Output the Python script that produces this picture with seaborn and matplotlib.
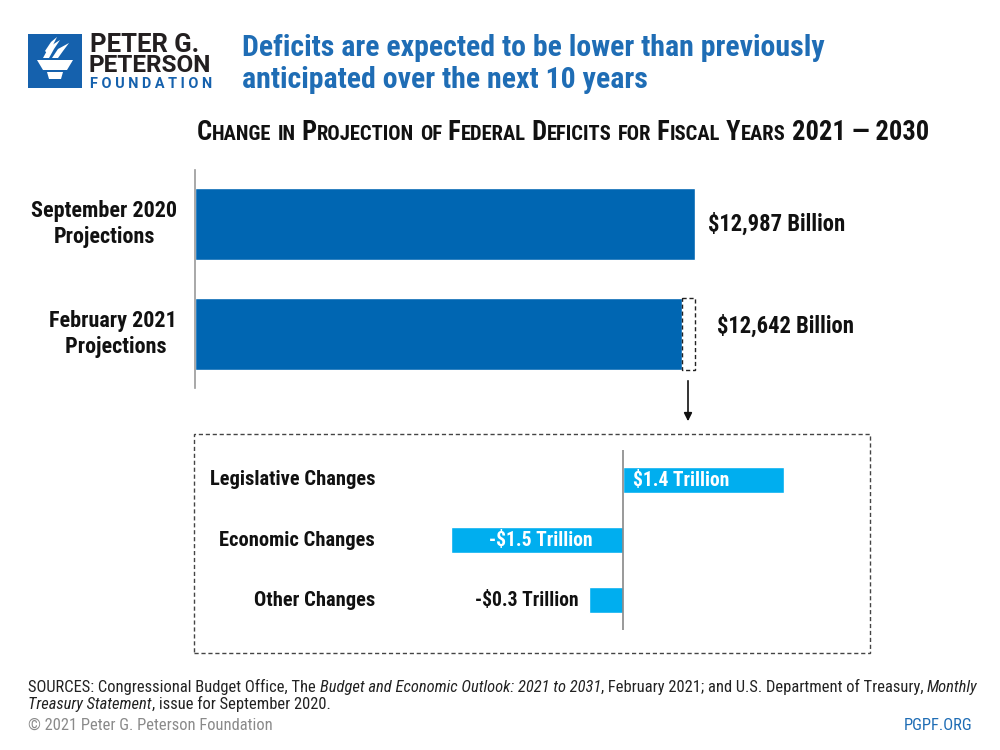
import matplotlib
matplotlib.use("Agg")
import matplotlib.pyplot as plt
import seaborn as sns
import pandas as pd
from matplotlib.patches import Rectangle, Polygon, FancyArrowPatch
from matplotlib import font_manager as fm

# ---- data ----
proj_labels = ["September 2020\nProjections", "February 2021\n Projections"]
proj_values = [12987, 12642]
proj_texts = ["$12,987 Billion", "$12,642 Billion"]

chg_labels = ["Legislative Changes", "Economic Changes", "Other Changes"]
chg_values = [1.4, -1.5, -0.3]
chg_texts = ["$1.4 Trillion", "-$1.5 Trillion", "-$0.3 Trillion"]

DARK = "#0066B2"
LIGHT = "#00AEEF"
TITLE_BLUE = "#1F6DB5"
TXT = "#111111"

# choose the narrowest available family
entries = fm.fontManager.ttflist
names = {f.name for f in entries}
STRETCH = "normal"
if "Liberation Sans Narrow" in names:
    FONT = "Liberation Sans Narrow"
elif "Roboto Condensed" in names:
    FONT = "Roboto Condensed"
elif any(f.name == "DejaVu Sans" and str(f.stretch).lower() in ("condensed", "semi-condensed")
         for f in entries):
    FONT = "DejaVu Sans"
    STRETCH = "condensed"
elif "Roboto" in names:
    FONT = "Roboto"
else:
    FONT = "DejaVu Sans"
FAM = [FONT, "DejaVu Sans"]
LOGO_FAM = ["Roboto", "DejaVu Sans"] if "Roboto" in names else FAM

sns.set_theme(style="white")
plt.rcParams["font.family"] = FAM
plt.rcParams["font.stretch"] = STRETCH

W, H = 1000, 750
fig = plt.figure(figsize=(10, 7.5), dpi=100)
fig.patch.set_facecolor("white")
R = fig.canvas.get_renderer()


def fx(px):
    return px / W


def fy(py):
    return 1 - py / H


def width_at(text, size, **kw):
    t = fig.text(0, 0, text, fontsize=size, **kw)
    w = t.get_window_extent(renderer=R).width
    t.remove()
    return w


def fit(text, target, base=14, **kw):
    return base * target / width_at(text, base, **kw)


def place_runs(x_px, y_px, runs, scale=1.0, color=TXT, **common):
    x = fx(x_px)
    for s, size, extra in runs:
        kw = dict(common)
        kw.update(extra)
        t = fig.text(x, fy(y_px), s, fontsize=size * scale, color=color, ha="left",
                     va="baseline", **kw)
        x += t.get_window_extent(renderer=R).width / W


def runs_width(runs, **common):
    tot = 0
    for s, size, extra in runs:
        kw = dict(common)
        kw.update(extra)
        tot += width_at(s, size, **kw)
    return tot


# ---- logo ----
fig.add_artist(Rectangle((fx(28), fy(88)), fx(54), 54 / H, transform=fig.transFigure,
                         facecolor="#1561AD", edgecolor="none"))
shapes = [
    [(37, 60), (73, 60), (67, 70), (43, 70)],
    [(47, 72), (63, 72), (61, 79), (49, 79)],
    [(43, 58), (49, 47), (60, 40), (54, 49), (49, 58)],
    [(52, 58), (58, 49), (69, 43), (63, 51), (58, 58)],
    [(45, 51), (51, 42), (57, 37), (53, 45), (47, 53)],
]
for pts in shapes:
    fig.add_artist(Polygon([(fx(a), fy(b)) for a, b in pts], closed=True,
                           transform=fig.transFigure, facecolor="white", edgecolor="none"))
s1 = fit("PETER G.", 110, weight="bold", family=LOGO_FAM)
fig.text(fx(90), fy(52), "PETER G.", fontsize=s1, fontweight="bold", color="#231F20",
         va="baseline", ha="left", family=LOGO_FAM)
s2 = fit("PETERSON", 123, weight="bold", family=LOGO_FAM)
fig.text(fx(89), fy(72), "PETERSON", fontsize=s2, fontweight="bold", color="#231F20",
         va="baseline", ha="left", family=LOGO_FAM)
s3 = fit("F O U N D A T I O N", 123, weight="bold", family=LOGO_FAM)
fig.text(fx(90), fy(88), "F O U N D A T I O N", fontsize=s3, fontweight="bold", color="#1561AD",
         va="baseline", ha="left", family=LOGO_FAM)

# ---- title ----
t1 = "Deficits are expected to be lower than previously"
st = fit(t1, 587, weight="bold")
fig.text(fx(242), fy(56), t1, fontsize=st, fontweight="bold", color=TITLE_BLUE,
         va="baseline", ha="left")
fig.text(fx(242), fy(88), "anticipated over the next 10 years", fontsize=st, fontweight="bold",
         color=TITLE_BLUE, va="baseline", ha="left")

# ---- small caps subtitle ----
sub = "Change in Projection of Federal Deficits for Fiscal Years 2021 \u2014 2030"
runs = []
for ch in sub:
    small = ch.islower()
    if runs and runs[-1][3] == small:
        runs[-1][0] += ch.upper()
    else:
        runs.append([ch.upper(), 12 if small else 15.5, {}, small])
runs = [(r[0], r[1], r[2]) for r in runs]
sc = 733 / runs_width(runs, fontweight="bold")
place_runs(197, 140, runs, scale=sc, fontweight="bold")

# ---- top bar chart ----
df1 = pd.DataFrame({"label": proj_labels, "value": proj_values})
ax1 = fig.add_axes([fx(195), fy(388), fx(705), 218 / H])
sns.barplot(data=df1, x="value", y="label", orient="h", color=DARK, saturation=1,
            width=0.655, ax=ax1)
ax1.set_xlim(0, 705 / 0.0385)
ax1.set_ylim(1.49, -0.49)
for s in ["top", "right", "bottom"]:
    ax1.spines[s].set_visible(False)
ax1.spines["left"].set_color("#999999")
ax1.spines["left"].set_linewidth(1.2)
ax1.set_xticks([])
ax1.set_yticks([])
ax1.set_xlabel("")
ax1.set_ylabel("")
ax1.patch.set_alpha(0)
ax1.add_patch(Rectangle((proj_values[1], 1 - 0.655 / 2), proj_values[0] - proj_values[1], 0.655,
                        facecolor="none", edgecolor="#222222", linestyle=(0, (3, 2)),
                        linewidth=1))
sv = fit(proj_texts[0], 138, weight="bold")
offsets = [(13, 0), (35, 8)]
for i, (v, t) in enumerate(zip(proj_values, proj_texts)):
    ax1.annotate(t, (v, i), xytext=offsets[i], textcoords="offset pixels", ha="left",
                 va="center", fontsize=sv, fontweight="bold", color=TXT)
sl = fit("September 2020", 146, weight="bold")
label_x = [104, 113]
for i, lab in enumerate(proj_labels):
    fig.text(fx(label_x[i]), fy(224 + 110 * i), lab, ha="center", va="center", fontsize=sl,
             fontweight="bold", color=TXT, linespacing=1.2)

# arrow
fig.add_artist(FancyArrowPatch((fx(688), fy(378)), (fx(688), fy(424)),
                               transform=fig.transFigure, arrowstyle="-|>",
                               mutation_scale=12, color="#111111", lw=1.2))

# ---- dashed box ----
fig.add_artist(Rectangle((fx(194), fy(653)), fx(676), 219 / H, transform=fig.transFigure,
                         facecolor="none", edgecolor="#444444", linestyle=(0, (3, 2)),
                         linewidth=1))

# ---- bottom bar chart ----
df2 = pd.DataFrame({"label": chg_labels, "value": chg_values})
ax2 = fig.add_axes([fx(400), fy(630), fx(470), 180 / H])
sns.barplot(data=df2, x="value", y="label", orient="h", color=LIGHT, saturation=1,
            width=0.42, ax=ax2)
ax2.set_xlim((400 - 623) / 115, (870 - 623) / 115)
ax2.set_ylim(2.5, -0.5)
for s in ax2.spines.values():
    s.set_visible(False)
ax2.axvline(0, color="#888888", lw=1.2)
ax2.set_xticks([])
ax2.set_yticks([])
ax2.set_xlabel("")
ax2.set_ylabel("")
ax2.patch.set_alpha(0)
sb = fit("-$1.5 Trillion", 104, weight="bold")
for i, (v, t) in enumerate(zip(chg_values, chg_texts)):
    if v > 0:
        ax2.annotate(t, (0, i), xytext=(10, 0), textcoords="offset pixels", ha="left",
                     va="center", fontsize=sb, fontweight="bold", color="white")
    elif abs(v) >= 1:
        ax2.annotate(t, (v / 2, i), xytext=(4, 0), textcoords="offset pixels", ha="center",
                     va="center", fontsize=sb, fontweight="bold", color="white")
    else:
        ax2.annotate(t, (v, i), xytext=(-10, 0), textcoords="offset pixels", ha="right",
                     va="center", fontsize=sb, fontweight="bold", color=TXT)
scl = fit("Legislative Changes", 167, weight="bold")
for i, lab in enumerate(chg_labels):
    fig.text(fx(375), fy(479 + 61 * i), lab, ha="right", va="center", fontsize=scl,
             fontweight="bold", color=TXT)

# ---- footer ----
ITAL = {"style": "italic"}
line1 = [("SOURCES: Congressional Budget Office, The ", 10, {}),
         ("Budget and Economic Outlook: 2021 to 2031", 10, ITAL),
         (", February 2021; and U.S. Department of Treasury, ", 10, {}),
         ("Monthly", 10, ITAL)]
fs = 944 / runs_width(line1)
place_runs(28, 692, line1, scale=fs, color="#222222")
line2 = [("Treasury Statement", 10, ITAL), (", issue for September 2020.", 10, {})]
place_runs(28, 709, line2, scale=fs, color="#222222")
fig.text(fx(28), fy(730), "\u00a9 2021 Peter G. Peterson Foundation", fontsize=10 * fs,
         color="#8A8A8A", ha="left", va="baseline")
fig.text(fx(972), fy(730), "PGPF.ORG", fontsize=10 * fs, color="#1F6DB5", ha="right",
         va="baseline")

fig.savefig("out.png", dpi=100, facecolor="white")
